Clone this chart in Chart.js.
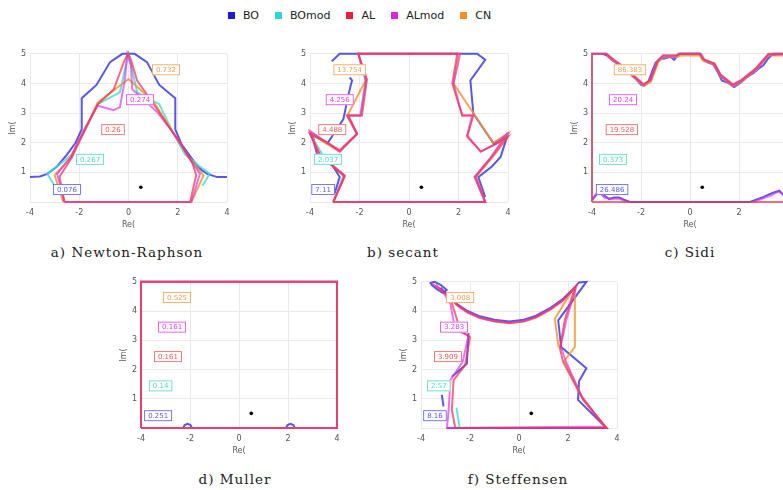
<!DOCTYPE html>
<html>
<head>
<meta charset="utf-8">
<script src="https://cdn.jsdelivr.net/npm/chart.js@4.4.1/dist/chart.umd.min.js"></script>
<style>
  html, body { margin: 0; padding: 0; background: #fff; }
  body { width: 783px; height: 490px; position: relative; overflow: hidden; font-family: "DejaVu Sans", sans-serif; }
  canvas { position: absolute; }
  #legend { position: absolute; left: 228px; top: 9px; display: flex; align-items: center; font-size: 11px; color: #222; }
  #legend span.sw { display: inline-block; width: 7px; height: 7px; margin-right: 8px; }
  #legend span.tx { margin-right: 16px; }
  .cap { position: absolute; font-family: "DejaVu Serif", serif; font-size: 13.5px; color: #222; transform: translateX(-50%); white-space: nowrap; letter-spacing: 1px; }
</style>
</head>
<body>
<div id="legend"></div>
<canvas id="pa" width="237" height="189" style="left:0px;top:45px"></canvas>
<canvas id="pb" width="238" height="189" style="left:280px;top:45px"></canvas>
<canvas id="pc" width="236" height="189" style="left:562px;top:45px"></canvas>
<canvas id="pd" width="236" height="187" style="left:111px;top:273px"></canvas>
<canvas id="pf" width="236" height="187" style="left:391px;top:273px"></canvas>
<div class="cap" style="left:127px;top:244px">a) Newton-Raphson</div>
<div class="cap" style="left:403px;top:244px">b) secant</div>
<div class="cap" style="left:690px;top:244px">c) Sidi</div>
<div class="cap" style="left:235px;top:471px">d) Muller</div>
<div class="cap" style="left:518px;top:471px">f) Steffensen</div>
<script>
// methods (legend order) and their colours
const methods = ['BO', 'BOmod', 'AL', 'ALmod', 'CN'];
const swatch = ['#1a1ad8', '#2ad8d8', '#e81e3c', '#dc28dc', '#f0902a'];
const lineColors = ['rgba(40,40,225,0.78)', 'rgba(60,220,215,0.8)', 'rgba(242,50,80,0.72)', 'rgba(225,50,230,0.68)', 'rgba(245,150,50,0.85)'];
const boxColors = ['#5a5af0', '#4fd8c8', '#f05a5a', '#e040e8', '#f0a050'];
const drawOrder = [5, 4, 1, 2, 3]; // lower = on top

// y of the value boxes (shared), x per panel
const labelY = [0.42, 1.44, 2.44, 3.45, 4.46];

// a) Newton-Raphson
const nrBO = [[[-4,0.84],[-3.6,0.86],[-3.3,0.95],[-2.9,1.2],[-2.5,1.6],[-2.15,2.0],[-1.9,2.45],[-1.9,3.5],[-1.3,3.95],[-0.75,4.72],[-0.25,5],[0.25,5],[0.75,4.72],[1.25,3.95],[1.9,3.5],[1.9,2.45],[2.15,1.95],[2.5,1.55],[2.85,1.15],[3.2,0.95],[3.6,0.84],[4,0.84]]];
const nrBOmod = [[[-3.0,0.55],[-3.3,0.95],[-2.9,1.2],[-2.3,1.6],[-1.8,2.35],[-1.25,3.3],[-0.35,3.7],[0,5],[0.35,3.7],[1.25,3.3],[1.8,2.35],[2.3,1.6],[2.9,1.2],[3.3,0.95],[3.0,0.55]]];
const nrAL = [[[-2.6,0],[-2.8,0.85],[-2.3,1.5],[-1.85,2.3],[-1.25,3.3],[-0.6,3.8],[-0.15,4.8],[0,5],[0.1,4.8],[0.35,4.1],[0.9,3.45],[1.55,2.65],[2.1,2.0],[2.6,1.3],[2.75,0.9],[2.5,0],[-2.6,0]]];
const nrALmod = [[[-2.6,0],[-2.9,0.95],[-2.35,1.5],[-1.9,2.3],[-1.25,3.25],[-0.6,3.1],[-0.35,3.2],[-0.15,4.1],[-0.05,5],[0.1,4.6],[0.15,3.8],[0.5,3.55],[1.2,3.0],[1.8,2.35],[2.5,1.45],[2.9,0.95],[2.55,0],[-2.6,0]]];
const nrCN = [[[-2.65,0],[-3.0,0.9],[-2.35,1.5],[-1.85,2.3],[-1.25,3.35],[0,4.15],[1.0,3.4],[1.85,2.3],[2.45,1.5],[3.05,0.9],[2.55,0]]];
const nrTexts = ['0.076', '0.267', '0.26', '0.274', '0.732'];
const nrLabelX = [-2.5, -1.56, -0.63, 0.47, 1.52];

// b) secant
const sBO = [
  [[-3.0,0.3],[-2.8,0.84],[-3.1,1.25],[-3.7,1.55],[-3.9,2.3],[-3.3,1.97],[-2.65,2.8],[-2.45,3.6],[-2.35,3.95],[-2.3,4.1],[-2.4,4.2]],
  [[-3.12,4.75],[-2.8,5],[2.75,5],[3.08,4.8],[2.48,4.1],[2.6,2.98],[3.42,1.97],[4,2.3],[3.7,1.52],[3.35,1.2],[2.8,0.84],[3.08,0.17]]
];
const sBOmod = [[[-3.06,0],[-2.65,0.88],[-3.5,1.6],[-4,2.3],[-3.35,2.0],[-2.8,1.72],[-2.1,2.28],[-2.48,2.92],[-1.95,2.92],[-1.72,4.12],[-2.05,5]]];
const sAL = [[[-3.06,0],[3.08,0],[2.7,0.85],[3.4,1.55],[4,2.2],[3.5,1.95],[2.9,1.7],[2.35,2.2],[2.6,2.92],[2.15,2.92],[1.75,4.0],[1.95,5],[-2.05,5],[-1.7,4.15],[-1.9,2.92],[-2.45,2.92],[-2.1,2.3],[-2.8,1.75],[-3.4,2.05],[-4,2.3],[-3.6,1.6],[-2.6,0.85],[-3.06,0]]];
const sALmod = [[[-3.06,0],[3.08,0],[2.65,0.85],[3.3,1.5],[4,2.35],[3.6,2.0],[2.9,1.7],[2.35,2.25],[2.55,2.92],[2.15,2.92],[1.8,4.0],[2.07,5],[-2.05,5],[-1.75,4.1],[-1.97,2.92],[-2.5,2.92],[-2.1,2.3],[-2.8,1.7],[-3.3,2.0],[-4,2.4],[-3.7,1.6],[-2.6,0.9],[-3.06,0]]];
const sCN = [[[-3.06,0],[3.08,0],[2.65,0.85],[3.3,1.5],[4,2.3],[3.4,2.0],[1.8,4.0],[2.0,5],[-2.05,5],[-1.75,4.1],[-2.5,2.9],[-2.1,2.3],[-2.8,1.7],[-3.4,2.0],[-4,2.35],[-3.6,1.6],[-2.6,0.9],[-3.06,0]]];
const sTexts = ['7.11', '2.037', '4.488', '4.256', '13.754'];
const sLabelX = [-3.47, -3.27, -3.1, -2.8, -2.4];

// c) Sidi
const siBO = [
  [[-3.55,5],[-3.35,4.92],[-3.2,4.8],[-3.05,4.72],[-2.6,4.45],[-2.2,4.15],[-2.0,3.95],[-1.85,3.93],[-1.7,4.05],[-1.55,4.4],[-1.4,4.7],[-1.2,4.82],[-1.0,4.85],[-0.8,4.9],[-0.65,4.8],[-0.5,4.95],[-0.45,5],[0.4,5],[0.5,4.82],[0.7,4.72],[0.95,4.65],[1.15,4.35],[1.3,4.1],[1.55,4.02],[1.8,3.88],[2.05,4.02],[2.3,4.2],[2.6,4.35],[2.8,4.5],[3.0,4.62],[3.2,4.85],[3.4,5],[4,5]],
  [[-4,0.05],[-3.85,0.22],[-3.68,0.38],[-3.5,0.22],[-3.3,0.1],[-3.1,0.15],[-2.9,0.15],[-2.7,0.08],[-2.45,0],[2.45,0],[2.7,0.08],[2.95,0.15],[3.2,0.25],[3.45,0.33],[3.65,0.38],[3.85,0.2],[4,0.1]]
];
const siBOmod = [[[-4,0],[-4,5],[-3.42,5],[-3.12,4.78],[-2.6,4.47],[-2.2,4.17],[-1.9,3.95],[-1.62,4.1],[-1.32,4.76],[-1.1,4.93],[-0.55,4.93],[-0.4,5],[0.4,5],[0.55,4.8],[1.0,4.66],[1.25,4.28],[1.75,3.95],[2.1,4.1],[2.7,4.5],[3.2,4.98],[4,5]]];
const siAL = [[[-4,0],[-4,5],[-3.4,5],[-3.1,4.8],[-2.6,4.5],[-2.2,4.2],[-1.9,3.98],[-1.6,4.12],[-1.3,4.78],[-1.1,4.95],[-0.55,4.95],[-0.4,5],[0.4,5],[0.55,4.82],[1.0,4.68],[1.25,4.3],[1.75,3.97],[2.1,4.12],[2.7,4.52],[3.2,5],[4,5],[4,0],[-4,0]]];
const siALmod = [
  [[-4,5],[-3.45,5],[-3.15,4.78],[-2.6,4.45],[-2.15,4.12],[-1.9,3.93],[-1.65,4.1],[-1.35,4.75],[-1.1,4.9],[-0.6,4.9],[-0.45,5],[0.45,5],[0.6,4.78],[1.0,4.62],[1.25,4.25],[1.75,3.92],[2.1,4.08],[2.7,4.47],[3.2,4.95],[4,5]],
  [[-4,0.1],[-3.75,0.36],[-3.5,0.15],[-3.2,0.1],[-2.9,0.12],[-2.6,0]],
  [[2.6,0],[2.9,0.1],[3.3,0.22],[3.6,0.35],[3.85,0.25],[4,0.1]]
];
const siCN = [[[-3.4,4.94],[-3.1,4.74],[-2.6,4.44],[-2.2,4.13],[-1.9,3.91],[-1.6,4.05],[-1.3,4.72],[-1.1,4.88],[-0.55,4.88],[-0.4,4.94],[0.4,4.94],[0.55,4.76],[1.0,4.62],[1.25,4.24],[1.75,3.9],[2.1,4.05],[2.7,4.46],[3.2,4.94],[4,4.94]]];
const siTexts = ['26.486', '0.373', '19.528', '20.24', '86.383'];
const siLabelX = [-3.18, -3.14, -2.78, -2.73, -2.45];

// d) Muller
const mBO = [[[-4,0],[-2.28,0],[-2.22,0.1],[-2.1,0.14],[-1.98,0.1],[-1.92,0],[1.92,0],[1.98,0.1],[2.1,0.14],[2.22,0.1],[2.28,0],[4,0]]];
const mBOmod = [[[-4,0],[4,0],[4,5],[-4,5],[-4,0]]];
const mAL = [[[-4,0],[4,0],[4,5],[-4,5],[-4,0]]];
const mALmod = [[[-4,0],[4,0],[4,5],[-4,5],[-4,0]]];
const mCN = [[[-4,0],[4,0],[4,5],[-4,5],[-4,0]]];
const mTexts = ['0.251', '0.14', '0.161', '0.161', '0.525'];
const mLabelX = [-3.3, -3.2, -2.9, -2.73, -2.53];

// f) Steffensen
const stBO = [
  [[-3.65,4.95],[-3.45,5.0],[-3.2,4.9],[-2.95,4.72],[-3.1,4.62],[-3.35,4.75],[-3.6,4.92]],
  [[-3.2,4.8],[-2.9,4.52],[-2.5,4.22],[-2.1,4.0],[-1.6,3.82],[-1.0,3.7],[-0.4,3.64],[0.2,3.7],[0.7,3.84],[1.3,4.12],[1.8,4.42],[2.2,4.75],[2.45,4.98],[2.75,5.0],[1.6,3.68],[1.72,2.77],[2.75,2.04],[2.45,1.6],[2.41,0.96],[3.57,0],[-2.95,0]],
  [[-2.06,3.25],[-2.13,2.2],[-2.74,1.75]],
  [[-3.15,1.13],[-3.08,0.74]]
];
const stBOmod = [[[-2.55,0.7],[-2.43,0.02]]];
const stAL = [[[-3.4,4.9],[-3.0,4.6],[-2.5,4.17],[-2.1,3.95],[-1.6,3.76],[-1.0,3.64],[-0.4,3.58],[0.2,3.64],[0.7,3.78],[1.3,4.06],[1.8,4.36],[2.28,4.8],[1.87,3.7],[1.67,2.72],[1.8,2.26],[2.62,0.96],[3.57,0],[-2.6,0],[-2.74,0.62],[-2.67,1.64],[-2.2,2.15],[-2.0,3.1],[-2.4,3.35],[-2.75,4.3],[-3.0,4.6]]];
const stALmod = [[[-3.55,4.95],[-3.1,4.65],[-2.5,4.2],[-2.1,3.97],[-1.6,3.78],[-1.0,3.66],[-0.4,3.6],[0.2,3.66],[0.7,3.8],[1.3,4.08],[1.8,4.38],[2.35,4.86],[1.95,3.75],[1.7,2.8],[1.9,2.3],[2.55,1.1],[3.5,0.05],[-2.94,0],[-2.87,0.62],[-2.8,1.64],[-2.3,2.26],[-2.06,3.17],[-2.6,3.34],[-2.8,4.24],[-3.1,4.65]]];
const stCN = [[[2.28,4.86],[2.28,2.77],[1.85,2.3],[2.6,1.0],[3.57,0]], [[2.2,4.75],[1.46,3.73],[1.62,2.75]]];
const stTexts = ['8.16', '2.57', '3.909', '3.283', '3.008'];
const stLabelX = [-3.43, -3.27, -2.9, -2.65, -2.4];

const dot = [[0.5, 0.5]];

// legend (html)
const leg = document.getElementById('legend');
methods.forEach((m, i) => {
  leg.insertAdjacentHTML('beforeend', `<span class="sw" style="background:${swatch[i]}"></span><span class="tx">${m}</span>`);
});

// value boxes drawn in data coordinates
const boxLabels = {
  id: 'boxLabels',
  afterDatasetsDraw(chart, args, opts) {
    const { ctx, scales: { x, y } } = chart;
    ctx.save();
    ctx.font = '7px "DejaVu Sans"';
    ctx.textAlign = 'center';
    ctx.textBaseline = 'middle';
    opts.texts.forEach((t, i) => {
      const px = x.getPixelForValue(opts.xs[i]);
      const py = y.getPixelForValue(labelY[i]);
      const w = ctx.measureText(t).width + 8, h = 11;
      ctx.fillStyle = '#fff';
      ctx.fillRect(px - w / 2, py - h / 2, w, h);
      ctx.strokeStyle = boxColors[i];
      ctx.lineWidth = 0.8;
      ctx.strokeRect(px - w / 2 + 0.5, py - h / 2 + 0.5, w - 1, h - 1);
      ctx.fillStyle = boxColors[i];
      ctx.fillText(t, px, py + 0.5);
    });
    ctx.restore();
  }
};

const tickFont = { family: 'DejaVu Sans', size: 8 };

function panel(id, series, texts, xs) {
  const datasets = [];
  series.forEach((pieces, i) => {
    pieces.forEach(p => datasets.push({
      data: p.map(([x, y]) => ({ x, y })),
      showLine: true, pointRadius: 0, borderWidth: 2, borderColor: lineColors[i],
      tension: 0, fill: false, clip: 4, order: drawOrder[i],
    }));
  });
  datasets.push({ data: dot.map(([x, y]) => ({ x, y })), pointRadius: 1.8, backgroundColor: '#000', borderWidth: 0, order: 0 });
  new Chart(document.getElementById(id), {
    type: 'scatter',
    data: { datasets },
    options: {
      responsive: false, animation: false, events: [],
      layout: { padding: { top: 8, right: 10, left: 0, bottom: 0 } },
      plugins: { legend: { display: false }, tooltip: { enabled: false }, boxLabels: { texts, xs } },
      scales: {
        x: {
          min: -4, max: 4,
          ticks: { stepSize: 2, font: tickFont, color: '#555', padding: 6, maxRotation: 0 },
          grid: { color: '#e9e9e9', drawTicks: false },
          border: { display: false },
          title: { display: true, text: 'Re(', font: { family: 'DejaVu Sans', size: 8 }, color: '#555', padding: { top: 0, bottom: 4 } },
          afterFit: s => { s.height = 32; },
        },
        y: {
          min: 0, max: 5,
          ticks: { stepSize: 1, font: tickFont, color: '#555', padding: 4, callback: v => v === 0 ? '' : v },
          grid: { color: '#e9e9e9', drawTicks: false },
          border: { display: false },
          title: { display: true, text: 'Im(', font: { family: 'DejaVu Sans', size: 8 }, color: '#555', padding: { top: 8, bottom: 8 } },
          afterFit: s => { s.width = 30; },
        },
      },
    },
    plugins: [boxLabels],
  });
}

panel('pa', [nrBO, nrBOmod, nrAL, nrALmod, nrCN], nrTexts, nrLabelX);
panel('pb', [sBO, sBOmod, sAL, sALmod, sCN], sTexts, sLabelX);
panel('pc', [siBO, siBOmod, siAL, siALmod, siCN], siTexts, siLabelX);
panel('pd', [mBO, mBOmod, mAL, mALmod, mCN], mTexts, mLabelX);
panel('pf', [stBO, stBOmod, stAL, stALmod, stCN], stTexts, stLabelX);
</script>
</body>
</html>
